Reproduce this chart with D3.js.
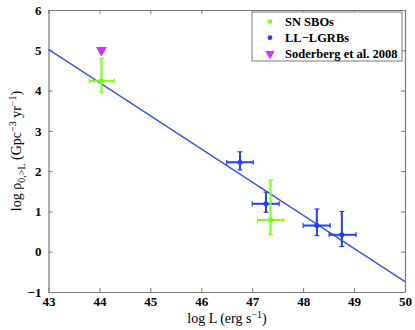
<!DOCTYPE html>
<html>
<head>
<meta charset="utf-8">
<script src="https://cdn.jsdelivr.net/npm/d3@7"></script>
<style>
  body { margin: 0; background: #fff; }
  text { font-family: "Liberation Serif", "DejaVu Serif", serif; }
</style>
</head>
<body>
<script>
// log L / log rate values
var sboX = [44.04, 47.36];
var sboY = [4.24, 0.79];
var sboXLo = [43.80, 47.10];
var sboXHi = [44.29, 47.62];
var sboYLo = [3.96, 0.42];
var sboYHi = [4.80, 1.78];

var grbX = [46.76, 47.27, 48.27, 48.76];
var grbY = [2.22, 1.19, 0.65, 0.42];
var grbXLo = [46.50, 47.00, 48.00, 48.51];
var grbXHi = [47.02, 47.53, 48.53, 49.04];
var grbYLo = [2.03, 0.98, 0.40, 0.13];
var grbYHi = [2.48, 1.48, 1.06, 1.00];

var limX = [44.04];
var limY = [5.0];

var fitX = [43, 50];
var fitY = [5.02, -0.74];

var xTicks = [43, 44, 45, 46, 47, 48, 49, 50];
var yTicks = [-1, 0, 1, 2, 3, 4, 5, 6];

var legendLabels = ["SN SBOs", "LL\u2212LGRBs", "Soderberg et al. 2008"];

var svgWidth = 415;
var svgHeight = 330;

var margin = { top: 10, right: 10, bottom: 38, left: 48.5 };
var chartWidth = 405 - margin.left;
var chartHeight = 292 - margin.top;

var green = "#77ff11";
var blue = "#2440f5";
var purple = "#cc33ff";
var axisCol = "#7a7a7a";
var serif = "'Liberation Serif', 'DejaVu Serif', serif";

var svg = d3.select("body")
    .append("svg")
    .attr("width", svgWidth)
    .attr("height", svgHeight);

var chartGroup = svg.append("g")
    .attr("transform", `translate(${margin.left}, ${margin.top})`);

var x = d3.scaleLinear().domain([43, 50]).range([0, chartWidth]);
var y = d3.scaleLinear().domain([-1, 6]).range([chartHeight, 0]);

// axes: inward ticks on all four sides
function styleAxis(g) {
    g.attr("font-family", serif).attr("font-size", null);
    g.select(".domain").attr("stroke", axisCol).attr("stroke-width", 1.2);
    g.selectAll(".tick line").attr("stroke", axisCol);
    g.selectAll(".tick text")
        .attr("fill", "#000")
        .style("font-size", "13px")
        .style("font-weight", "bold")
        .style("font-family", serif);
}

var fmt = d3.format("d");

chartGroup.append("g")
    .attr("transform", `translate(0, ${chartHeight})`)
    .call(d3.axisBottom(x).tickValues(xTicks).tickFormat(fmt).tickSize(-4).tickPadding(5).tickSizeOuter(0))
    .call(styleAxis);

chartGroup.append("g")
    .call(d3.axisLeft(y).tickValues(yTicks).tickFormat(fmt).tickSize(-4).tickPadding(7).tickSizeOuter(0))
    .call(styleAxis);

chartGroup.append("g")
    .call(d3.axisTop(x).tickValues(xTicks).tickSize(-4).tickFormat("").tickSizeOuter(0))
    .call(styleAxis);

chartGroup.append("g")
    .attr("transform", `translate(${chartWidth}, 0)`)
    .call(d3.axisRight(y).tickValues(yTicks).tickSize(-4).tickFormat("").tickSizeOuter(0))
    .call(styleAxis);

// fit line
chartGroup.append("line")
    .attr("x1", x(fitX[0])).attr("y1", y(fitY[0]))
    .attr("x2", x(fitX[1])).attr("y2", y(fitY[1]))
    .attr("stroke", "#3a55ee")
    .attr("stroke-width", 1.5);

function drawErr(xs, ys, xlo, xhi, ylo, yhi, color) {
    var g = chartGroup.append("g")
        .attr("stroke", color)
        .attr("stroke-width", 2);
    var cap = 2.5;
    xs.forEach(function (d, i) {
        g.append("line")
            .attr("x1", x(xlo[i])).attr("x2", x(xhi[i]))
            .attr("y1", y(ys[i])).attr("y2", y(ys[i]));
        g.append("line")
            .attr("x1", x(d)).attr("x2", x(d))
            .attr("y1", y(ylo[i])).attr("y2", y(yhi[i]));
        [xlo[i], xhi[i]].forEach(function (v) {
            g.append("line")
                .attr("x1", x(v)).attr("x2", x(v))
                .attr("y1", y(ys[i]) - cap).attr("y2", y(ys[i]) + cap)
                .attr("stroke-width", 1.2);
        });
        [ylo[i], yhi[i]].forEach(function (v) {
            g.append("line")
                .attr("x1", x(d) - cap).attr("x2", x(d) + cap)
                .attr("y1", y(v)).attr("y2", y(v))
                .attr("stroke-width", 1.2);
        });
        chartGroup.append("circle")
            .attr("cx", x(d)).attr("cy", y(ys[i]))
            .attr("r", 2.6)
            .attr("fill", color);
    });
}

drawErr(grbX, grbY, grbXLo, grbXHi, grbYLo, grbYHi, blue);
drawErr(sboX, sboY, sboXLo, sboXHi, sboYLo, sboYHi, green);

var tri = d3.symbol().type(d3.symbolTriangle).size(40);
chartGroup.selectAll(".lim")
    .data(limX)
    .enter()
    .append("path")
    .attr("d", tri)
    .attr("transform", (d, i) => `translate(${x(d)}, ${y(limY[i])}) rotate(180)`)
    .attr("fill", purple)
    .attr("stroke", purple)
    .attr("stroke-width", 1);

// legend
var legend = svg.append("g").attr("transform", "translate(252, 12)");
legend.append("rect")
    .attr("width", 150).attr("height", 49)
    .attr("fill", "#fff")
    .attr("stroke", axisCol)
    .attr("stroke-width", 1);

var legendColors = [green, blue, purple];
legendLabels.forEach(function (lab, i) {
    var yy = 9.7 + i * 16;
    if (i < 2) {
        legend.append("circle")
            .attr("cx", 18).attr("cy", yy).attr("r", 2.4)
            .attr("fill", legendColors[i]);
    } else {
        legend.append("path")
            .attr("d", tri)
            .attr("transform", `translate(18, ${yy}) rotate(180)`)
            .attr("fill", purple);
    }
    legend.append("text")
        .attr("x", 33).attr("y", yy + 4.5)
        .style("font-size", "12.5px")
        .style("font-weight", "bold")
        .text(lab);
});

// axis labels
var xl = svg.append("text")
    .attr("x", 227).attr("y", 323)
    .attr("text-anchor", "middle")
    .style("font-size", "14px");
xl.append("tspan").text("log L (erg s");
xl.append("tspan").attr("dy", -5).style("font-size", "10px").text("\u22121");
xl.append("tspan").attr("dy", 5).text(")");

var yl = svg.append("text")
    .attr("transform", "translate(21, 151) rotate(-90)")
    .attr("text-anchor", "middle")
    .style("font-size", "14px");
yl.append("tspan").text("log \u03C1");
yl.append("tspan").attr("dy", 4).style("font-size", "10px").text("0,>L");
yl.append("tspan").attr("dy", -4).text(" (Gpc");
yl.append("tspan").attr("dy", -5).style("font-size", "10px").text("\u22123");
yl.append("tspan").attr("dy", 5).text(" yr");
yl.append("tspan").attr("dy", -5).style("font-size", "10px").text("\u22121");
yl.append("tspan").attr("dy", 5).text(")");
</script>
</body>
</html>
